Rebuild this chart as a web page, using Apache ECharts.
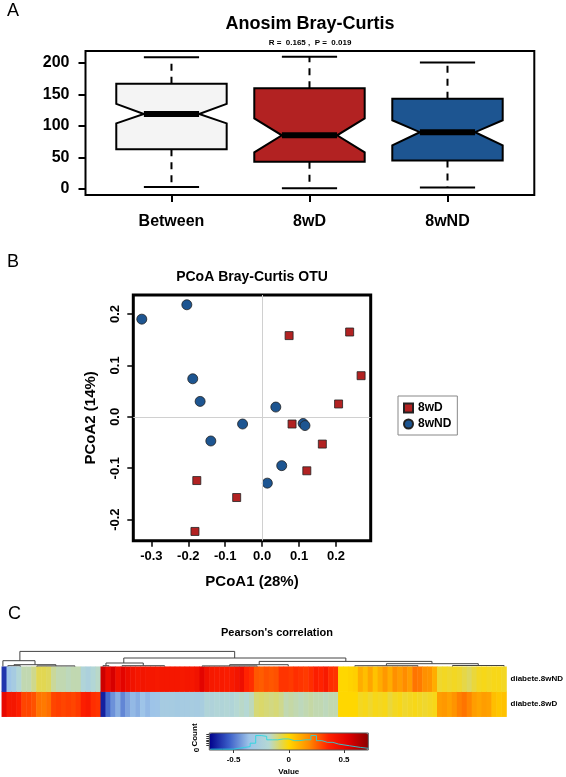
<!DOCTYPE html>
<html>
<head>
<meta charset="utf-8">
<script src="https://cdn.jsdelivr.net/npm/echarts@6/dist/echarts.min.js"></script>
<style>html,body{margin:0;padding:0;background:#fff}#c{width:566px;height:777px}</style>
</head>
<body>
<div id="c"></div>
<script>
// ---------- Panel A: ANOSIM boxplot ----------
const categories = ['Between', '8wD', '8wND'];
const boxMin   = [3, 1, 2];
const boxQ1    = [63, 43, 45];
const notchLo  = [104, 58, 69];
const boxMed   = [119, 85, 90];
const notchHi  = [135, 112, 109];
const boxQ3    = [167, 160, 143];
const boxMax   = [209, 210, 201];
const boxColors = ['#f4f4f4', '#b22222', '#1d5591'];
const yTicksA = [0, 50, 100, 150, 200];

// ---------- Panel B: PCoA ----------
const d8wD_x  = [0.073, 0.237, 0.268, 0.207, 0.081, 0.163, 0.121, -0.177, -0.069, -0.182];
const d8wD_y  = [0.158, 0.165, 0.080, 0.025, -0.014, -0.053, -0.105, -0.124, -0.157, -0.223];
const d8wND_x = [-0.326, -0.204, -0.188, -0.168, -0.053, -0.139, 0.037, 0.111, 0.116, 0.053, 0.014];
const d8wND_y = [0.190, 0.218, 0.074, 0.030, -0.014, -0.047, 0.019, -0.013, -0.017, -0.095, -0.129];
const xTicksB = [-0.3, -0.2, -0.1, 0.0, 0.1, 0.2];
const yTicksB = [-0.2, -0.1, 0.0, 0.1, 0.2];

// ---------- Panel C: Pearson's correlation heatmap ----------
const rowNames = ['diabete.8wD', 'diabete.8wND'];
const corr8wND = [
 -0.62,-0.35,-0.30,-0.20,-0.15,-0.15,-0.12,-0.07,-0.07,-0.08,
 -0.13,-0.15,-0.15,-0.16,-0.15,-0.15,-0.22,-0.25,-0.20,-0.17,
  0.58, 0.48, 0.56, 0.45, 0.52, 0.47, 0.44, 0.42, 0.43, 0.42,
  0.42, 0.41, 0.42, 0.42, 0.42, 0.42, 0.41, 0.42, 0.42, 0.44,
  0.52, 0.45, 0.41, 0.40, 0.40, 0.39, 0.40, 0.43, 0.46, 0.36,
  0.34, 0.27, 0.26, 0.28, 0.27, 0.28, 0.33, 0.33, 0.32, 0.34,
  0.33, 0.32, 0.34, 0.38, 0.36, 0.40, 0.34, 0.33, 0.00, 0.00,
  0.01, 0.02, 0.10, 0.06, 0.12, 0.05, 0.10, 0.15, 0.10, 0.17,
  0.14, 0.18, 0.14, 0.22, 0.21, 0.17, 0.16, 0.10,-0.04,-0.03,
 -0.04,-0.03,-0.04,-0.06,-0.08,-0.05,-0.03,-0.02,-0.03,-0.02,
 -0.02,-0.03
];
const corr8wD = [
  0.50, 0.42, 0.42, 0.38, 0.30, 0.30, 0.28, 0.22, 0.21, 0.23,
  0.30, 0.31, 0.30, 0.31, 0.30, 0.32, 0.38, 0.40, 0.34, 0.33,
 -0.66,-0.52,-0.45,-0.40,-0.47,-0.42,-0.38,-0.40,-0.36,-0.38,
 -0.36,-0.35,-0.30,-0.30,-0.30,-0.31,-0.30,-0.30,-0.29,-0.30,
 -0.28,-0.22,-0.23,-0.21,-0.22,-0.20,-0.22,-0.18,-0.17,-0.18,
 -0.16,-0.10,-0.09,-0.10,-0.11,-0.10,-0.12,-0.15,-0.14,-0.15,
 -0.16,-0.15,-0.14,-0.15,-0.15,-0.16,-0.15,-0.15, 0.00, 0.00,
  0.00, 0.00,-0.03,-0.02,-0.04,-0.02,-0.03,-0.02,-0.05,-0.03,
 -0.02,-0.04,-0.03,-0.02,-0.03,-0.04,-0.03,-0.02, 0.14, 0.15,
  0.13, 0.16, 0.20, 0.22, 0.19, 0.14, 0.12, 0.14, 0.13, 0.06,
  0.04, 0.05
];
// dendrogram merges: [leftX, rightX, height, leftChildHeight, rightChildHeight] (column units)
const dendroNodes = [
  [3.61, 46.5, 15.3, 6.0, 8.7],
  [0.22, 6.63, 6.0, 0.3, 2.0],
  [2.44, 10.8, 2.0, 1.0, 0.8],
  [1.2, 3.7, 1.0, 0.2, 0.2],
  [7.0, 14.6, 0.8, 0.2, 0.2],
  [24.36, 68.7, 8.7, 3.7, 5.3],
  [20.8, 28.25, 3.7, 1.0, 1.0],
  [20.2, 21.4, 1.0, 0.2, 0.2],
  [24.0, 32.5, 1.0, 0.3, 0.3],
  [51.4, 85.9, 5.3, 2.0, 3.0],
  [45.5, 57.2, 2.0, 0.8, 0.5],
  [40.0, 51.0, 0.8, 0.2, 0.2],
  [76.8, 95.15, 3.0, 1.0, 1.2],
  [70.5, 83.1, 1.0, 0.3, 0.3],
  [90.0, 100.3, 1.2, 0.3, 0.3]
];
const keyTicks = [-0.5, 0, 0.5];
const histEdges = [-0.71,-0.6,-0.5,-0.45,-0.4,-0.35,-0.3,-0.25,-0.2,-0.15,-0.1,-0.05,0,0.05,0.1,0.15,0.2,0.25,0.3,0.35,0.4,0.45,0.5,0.55,0.6,0.65,0.72];
const histCounts = [1,1,2,3,4,8,17,16,12,12,13,13,11,11,12,12,17,11,9,9,7,6,5,4,3,2];
const heatColors = ['#00008b','#3b5fc9','#9ec4e8','#b5d8d4','#ffd700','#ff8c00','#ff2200','#e00000','#8b0000'];

const N = corr8wND.length;
const colNames = corr8wND.map((_, i) => String(i));
const heatData = [];
for (let i = 0; i < N; i++) { heatData.push([i, 0, corr8wD[i]]); heatData.push([i, 1, corr8wND[i]]); }
const histData = histCounts.map((c, i) => [histEdges[i], c]);
histData.push([histEdges[histEdges.length - 1], histCounts[histCounts.length - 1]]);

const FONT = 'Liberation Sans';
const chart = echarts.init(document.getElementById('c'), null, {renderer: 'canvas'});

const boxData = categories.map((c, i) => [i + 1, boxMin[i], boxQ1[i], notchLo[i], boxMed[i], notchHi[i], boxQ3[i], boxMax[i]]);

function renderBox(params, api) {
  const i = params.dataIndex;
  const v = k => api.value(k);
  const x = v(0);
  const P = (a, b) => api.coord([a, b]);
  const hw = 0.4, nw = 0.2, cw = 0.2;
  const seg = (a, b, c, d) => { const p1 = P(a, b), p2 = P(c, d); return {x1: p1[0], y1: p1[1], x2: p2[0], y2: p2[1]}; };
  const pts = [[x-hw,v(2)],[x-hw,v(3)],[x-nw,v(4)],[x-hw,v(5)],[x-hw,v(6)],[x+hw,v(6)],[x+hw,v(5)],[x+nw,v(4)],[x+hw,v(3)],[x+hw,v(2)]].map(p => P(p[0], p[1]));
  const dash = {stroke: '#000', lineWidth: 2, lineDash: [7, 6]};
  const solid = {stroke: '#000', lineWidth: 2};
  return {type: 'group', children: [
    {type: 'line', shape: seg(x, v(6), x, v(7)), style: dash},
    {type: 'line', shape: seg(x, v(2), x, v(1)), style: dash},
    {type: 'line', shape: seg(x - cw, v(7), x + cw, v(7)), style: solid},
    {type: 'line', shape: seg(x - cw, v(1), x + cw, v(1)), style: solid},
    {type: 'polygon', shape: {points: pts}, style: {fill: boxColors[i], stroke: '#000', lineWidth: 2}},
    {type: 'line', shape: seg(x - nw, v(4), x + nw, v(4)), style: {stroke: '#000', lineWidth: 6}}
  ]};
}

function renderDendro(params, api) {
  const v = k => api.value(k);
  const pts = [[v(0), v(3)], [v(0), v(2)], [v(1), v(2)], [v(1), v(4)]].map(p => api.coord(p));
  return {type: 'polyline', shape: {points: pts}, style: {stroke: '#444', lineWidth: 1, fill: null}};
}

const boldTxt = (size) => ({fontSize: size, fontWeight: 'bold', color: '#000', fontFamily: FONT});
const noLine = {show: false, onZero: false};

const option = {
  backgroundColor: '#fff',
  animation: false,
  textStyle: {fontFamily: FONT},
  title: [
    {text: 'A', left: 7, top: 2, padding: 0, textStyle: {fontSize: 18, fontWeight: 'normal', color: '#000', fontFamily: FONT}},
    {text: 'Anosim Bray-Curtis', left: 310, top: 15, textAlign: 'center', padding: 0, textStyle: boldTxt(18)},
    {text: 'R =  0.165 ,  P =  0.019', left: 310, top: 39, textAlign: 'center', padding: 0, textStyle: boldTxt(8)},
    {text: 'B', left: 7, top: 253, padding: 0, textStyle: {fontSize: 18, fontWeight: 'normal', color: '#000', fontFamily: FONT}},
    {text: 'PCoA Bray-Curtis OTU', left: 252, top: 270, textAlign: 'center', padding: 0, textStyle: boldTxt(14)},
    {text: 'C', left: 8, top: 605, padding: 0, textStyle: {fontSize: 18, fontWeight: 'normal', color: '#000', fontFamily: FONT}},
    {text: "Pearson's correlation", left: 277, top: 627, textAlign: 'center', padding: 0, textStyle: boldTxt(11)}
  ],
  legend: {
    data: [{name: '8wD', icon: 'rect'}, {name: '8wND', icon: 'circle'}],
    orient: 'vertical', left: 398, top: 396,
    padding: [6, 6, 5, 5], itemGap: 4, itemWidth: 9, itemHeight: 9,
    borderColor: '#888', borderWidth: 1,
    textStyle: boldTxt(12)
  },
  grid: [
    {left: 85.5, top: 51, width: 448.8, height: 144, show: true, borderColor: '#000', borderWidth: 2, backgroundColor: 'transparent'},
    {left: 133.3, top: 295, width: 237.4, height: 245.7, show: true, borderColor: '#000', borderWidth: 3, backgroundColor: 'transparent'},
    {left: 1.8, top: 650, width: 510.8, height: 16.7},
    {left: 1.8, top: 666.7, width: 510.8, height: 50},
    {left: 209.3, top: 733, width: 159, height: 17, show: true, borderColor: '#555', borderWidth: 1, backgroundColor: 'transparent', z: 5}
  ],
  xAxis: [
    {gridIndex: 0, type: 'value', min: 0.377, max: 3.629,
     axisLine: noLine, splitLine: {show: false},
     axisTick: {show: true, customValues: [1, 2, 3], length: 7, lineStyle: {color: '#000', width: 2}},
     axisLabel: {customValues: [1, 2, 3], formatter: v => categories[Math.round(v) - 1], margin: 19, ...boldTxt(16)}},
    {gridIndex: 1, type: 'value', min: -0.349, max: 0.294,
     axisLine: noLine, splitLine: {show: false},
     axisTick: {show: true, customValues: xTicksB, length: 6, lineStyle: {color: '#000', width: 1.5}},
     axisLabel: {customValues: xTicksB, formatter: v => v.toFixed(1), margin: 9, ...boldTxt(13)},
     name: 'PCoA1 (28%)', nameLocation: 'middle', nameGap: 34, nameTextStyle: boldTxt(15)},
    {gridIndex: 2, type: 'value', min: 0, max: N, show: false},
    {gridIndex: 3, type: 'category', data: colNames, show: false},
    {gridIndex: 4, type: 'value', min: -0.72, max: 0.72,
     axisLine: noLine, splitLine: {show: false},
     axisTick: {show: true, customValues: keyTicks, length: 3, lineStyle: {color: '#333'}},
     axisLabel: {customValues: keyTicks, formatter: v => (v === 0 ? '0' : String(v)), margin: 6, ...boldTxt(8)},
     name: 'Value', nameLocation: 'middle', nameGap: 18, nameTextStyle: boldTxt(8)}
  ],
  yAxis: [
    {gridIndex: 0, type: 'value', min: -9.86, max: 219.1,
     axisLine: noLine, splitLine: {show: false},
     axisTick: {show: true, customValues: yTicksA, length: 7, lineStyle: {color: '#000', width: 2}},
     axisLabel: {customValues: yTicksA, margin: 16, ...boldTxt(16)}},
    {gridIndex: 1, type: 'value', min: -0.241, max: 0.237,
     axisLine: noLine, splitLine: {show: false},
     axisTick: {show: true, customValues: yTicksB, length: 6, lineStyle: {color: '#000', width: 1.5}},
     axisLabel: {customValues: yTicksB, formatter: v => v.toFixed(1), rotate: 90, margin: 11, ...boldTxt(13)},
     name: 'PCoA2 (14%)', nameLocation: 'middle', nameGap: 35, nameRotate: 90, nameTextStyle: boldTxt(15)},
    {gridIndex: 2, type: 'value', min: 0, max: 16.7, show: false},
    {gridIndex: 3, type: 'category', data: rowNames, position: 'right',
     axisLine: noLine, axisTick: {show: false},
     axisLabel: {margin: 4, ...boldTxt(8)}},
    {gridIndex: 4, type: 'value', min: 0, max: 20,
     axisLine: noLine, splitLine: {show: false},
     axisTick: {show: true, customValues: [6, 8, 10, 12, 14, 16, 18], length: 3, lineStyle: {color: '#333'}},
     axisLabel: {customValues: [0], rotate: 90, margin: 9, ...boldTxt(8)}}
  ],
  visualMap: {
    type: 'continuous', min: -0.72, max: 0.72, seriesIndex: 4,
    orient: 'horizontal', left: 209.3, top: 733, itemWidth: 17, itemHeight: 159,
    calculable: false, showLabel: false, text: null, padding: 0, hoverLink: false,
    inRange: {color: heatColors}
  },
  graphic: [
    {type: 'text', x: 195, y: 735, rotation: Math.PI / 2, z: 10,
     style: {text: 'Count', textAlign: 'center', textVerticalAlign: 'middle', font: 'bold 8px "Liberation Sans"', fill: '#000'}}
  ],
  series: [
    {type: 'custom', name: 'anosim', xAxisIndex: 0, yAxisIndex: 0, data: boxData, renderItem: renderBox,
     encode: {x: 0, y: [1, 7]}, clip: false, silent: true},
    {type: 'scatter', name: 'zero', xAxisIndex: 1, yAxisIndex: 1, data: [], z: 1, silent: true,
     markLine: {silent: true, symbol: ['none', 'none'], label: {show: false},
       lineStyle: {color: '#d0d0d0', width: 1, type: 'solid'},
       data: [{xAxis: 0}, {yAxis: 0}]}},
    {type: 'scatter', name: '8wD', xAxisIndex: 1, yAxisIndex: 1, z: 3, symbol: 'rect', symbolSize: 8,
     itemStyle: {color: '#b22222', borderColor: '#222', borderWidth: 0.8, opacity: 1},
     data: d8wD_x.map((x, i) => [x, d8wD_y[i]])},
    {type: 'scatter', name: '8wND', xAxisIndex: 1, yAxisIndex: 1, z: 3, symbol: 'circle', symbolSize: 10,
     itemStyle: {color: '#1d5591', borderColor: '#222', borderWidth: 0.8, opacity: 1},
     data: d8wND_x.map((x, i) => [x, d8wND_y[i]])},
    {type: 'heatmap', name: 'corr', xAxisIndex: 3, yAxisIndex: 3, data: heatData, progressive: 0,
     itemStyle: {borderWidth: 0}, emphasis: {disabled: true}, silent: true},
    {type: 'custom', name: 'dendro', xAxisIndex: 2, yAxisIndex: 2, data: dendroNodes, renderItem: renderDendro,
     clip: false, silent: true},
    {type: 'line', name: 'hist', xAxisIndex: 4, yAxisIndex: 4, data: histData, step: 'end', showSymbol: false,
     z: 8, silent: true, lineStyle: {color: '#22d8e0', width: 1, opacity: 0.85}}
  ]
};
chart.setOption(option);
</script>
</body>
</html>
